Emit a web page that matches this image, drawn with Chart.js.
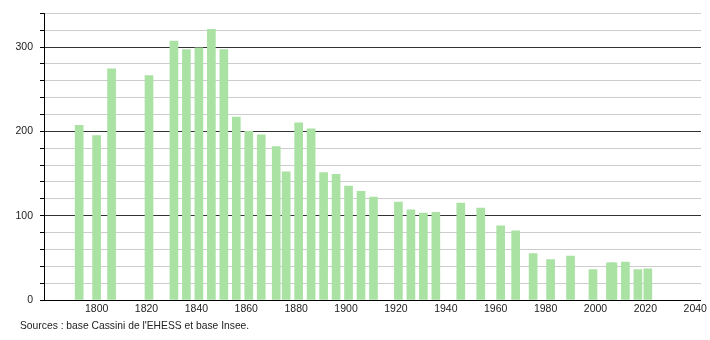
<!DOCTYPE html>
<html lang="fr">
<head>
  <meta charset="UTF-8" />
  <title>Population</title>
  <script src="https://cdn.jsdelivr.net/npm/chart.js"></script>
  <style>
    body {
      margin: 0;
      background-color: white;
      font-family: "Liberation Sans", Arial, sans-serif;
    }
    .wrap {
      position: relative;
      width: 710px;
      height: 340px;
    }
    .source {
      position: absolute;
      left: 20px;
      top: 320px;
      font-size: 10.3px;
      color: #222;
    }
  </style>
</head>
<body>
  <div class="wrap">
    <canvas id="pop" width="710" height="340"></canvas>
    <div class="source">Sources : base Cassini de l'EHESS et base Insee.</div>
  </div>

  <script>
    // census years and population
    const years = [1793, 1800, 1806, 1821, 1831, 1836, 1841, 1846, 1851, 1856,
      1861, 1866, 1872, 1876, 1881, 1886, 1891, 1896, 1901, 1906,
      1911, 1921, 1926, 1931, 1936, 1946, 1954, 1962, 1968, 1975,
      1982, 1990, 1999, 2006, 2007, 2012, 2017, 2021];
    const population = [207, 195, 274, 266, 307, 297, 299, 321, 297, 217,
      200, 196, 182, 152, 210, 203, 151, 149, 135, 129,
      122, 116, 107, 103, 104, 115, 109, 88, 82, 55,
      48, 52, 36, 44, 44, 45, 36, 37];

    const xTicks = [1800, 1820, 1840, 1860, 1880, 1900, 1920, 1940, 1960, 1980, 2000, 2020, 2040];
    const yLabels = [0, 100, 200, 300];

    const font = { family: "'Liberation Sans', Arial, sans-serif", size: 10.5 };

    new Chart(document.getElementById("pop").getContext("2d"), {
      type: "bar",
      data: {
        datasets: [{
          data: years.map((y, i) => ({ x: y, y: population[i] })),
          backgroundColor: "#a9e2a3",
          barThickness: 8
        }]
      },
      options: {
        responsive: false,
        animation: false,
        devicePixelRatio: 1,
        layout: { padding: { top: 7, right: 9, left: 0, bottom: 0 } },
        plugins: { legend: { display: false }, tooltip: { enabled: false } },
        scales: {
          x: {
            type: "linear",
            offset: false,
            min: 1778.9,
            max: 2042.3,
            afterBuildTicks: s => { s.ticks = xTicks.map(v => ({ value: v })); },
            afterFit: s => { s.height = 40; },
            grid: { display: false, drawTicks: false },
            border: { color: "#000", width: 1 },
            ticks: { color: "#222", font: font, padding: 3, maxRotation: 0, callback: v => String(v) }
          },
          y: {
            min: 0,
            max: 340,
            afterFit: s => { s.width = 44; },
            ticks: {
              stepSize: 20,
              color: "#222",
              font: font,
              padding: 7,
              callback: v => yLabels.includes(v) ? String(v) : ""
            },
            grid: {
              color: c => c.tick.value % 100 === 0 ? "#333" : "#ccc",
              tickColor: "#000",
              tickLength: 4
            },
            border: { color: "#000", width: 1 }
          }
        }
      }
    });
  </script>
</body>
</html>
